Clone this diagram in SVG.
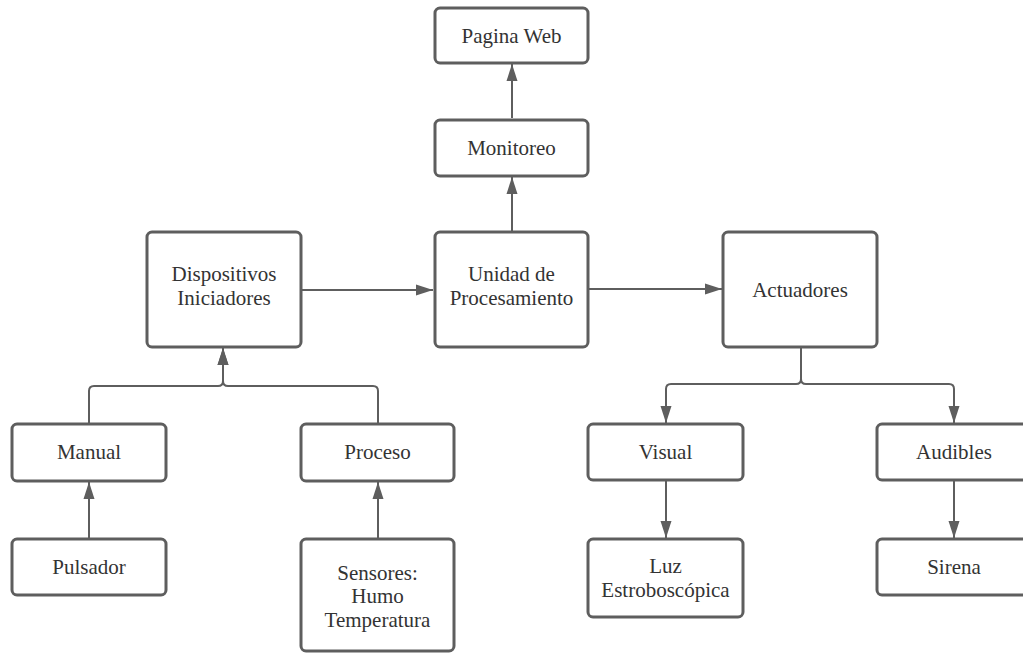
<svg xmlns="http://www.w3.org/2000/svg" width="1023" height="653" viewBox="0 0 1023 653">
  <style>
    .box { fill: #ffffff; stroke: #5e5e5e; stroke-width: 3; }
    .lbl { font-family: 'Liberation Serif', 'DejaVu Serif', serif; font-size: 21px; fill: #333333; text-anchor: middle; }
    .edge { fill: none; stroke: #5e5e5e; stroke-width: 2; marker-end: url(#arrow); }
  </style>
  <defs>
    <marker id="arrow" markerUnits="userSpaceOnUse" markerWidth="18" markerHeight="12" refX="17" refY="6" orient="auto">
      <path d="M0,0.5 L17,6 L0,11.5 Z" fill="#5e5e5e"/>
    </marker>
  </defs>
  <rect width="1023" height="653" fill="#ffffff"/>

  <!-- connectors -->
  <g id="connectors">
    <path class="edge" d="M512,118 V64"/>
    <path class="edge" d="M512,232 V177"/>
    <path class="edge" d="M301,290 H433"/>
    <path class="edge" d="M588,289 H722"/>
    <path class="edge" d="M89,423 V391 Q89,386 94,386 H218 Q223,386 223,381 V348"/>
    <path class="edge" d="M378,423 V391 Q378,386 373,386 H228 Q223,386 223,381 V348"/>
    <path class="edge" d="M89,539 V482"/>
    <path class="edge" d="M378,539 V482"/>
    <path class="edge" d="M801,347 V379 Q801,384 796,384 H671 Q666,384 666,389 V423"/>
    <path class="edge" d="M801,347 V379 Q801,384 806,384 H949 Q954,384 954,389 V423"/>
    <path class="edge" d="M666,480 V538"/>
    <path class="edge" d="M954,480 V538"/>
  </g>

  <g id="pagina-web">
    <rect class="box" x="435" y="8" width="153" height="55" rx="5"/>
    <text class="lbl" x="511.5" y="43">Pagina Web</text>
  </g>
  <g id="monitoreo">
    <rect class="box" x="435" y="120" width="153" height="56" rx="5"/>
    <text class="lbl" x="511.5" y="155">Monitoreo</text>
  </g>
  <g id="unidad-procesamiento">
    <rect class="box" x="435" y="232" width="153" height="115" rx="5"/>
    <text class="lbl" x="511.5" y="281">Unidad de</text>
    <text class="lbl" x="511.5" y="305">Procesamiento</text>
  </g>
  <g id="dispositivos-iniciadores">
    <rect class="box" x="147" y="232" width="154" height="115" rx="5"/>
    <text class="lbl" x="224" y="281">Dispositivos</text>
    <text class="lbl" x="224" y="305">Iniciadores</text>
  </g>
  <g id="actuadores">
    <rect class="box" x="723" y="232" width="154" height="115" rx="5"/>
    <text class="lbl" x="800" y="297">Actuadores</text>
  </g>
  <g id="manual">
    <rect class="box" x="12" y="424" width="154" height="57" rx="5"/>
    <text class="lbl" x="89" y="459">Manual</text>
  </g>
  <g id="proceso">
    <rect class="box" x="301" y="424" width="153" height="57" rx="5"/>
    <text class="lbl" x="377.5" y="459">Proceso</text>
  </g>
  <g id="pulsador">
    <rect class="box" x="12" y="539" width="154" height="56" rx="5"/>
    <text class="lbl" x="89" y="574">Pulsador</text>
  </g>
  <g id="sensores">
    <rect class="box" x="301" y="539" width="153" height="112" rx="5"/>
    <text class="lbl" x="377.5" y="580">Sensores:</text>
    <text class="lbl" x="377.5" y="603">Humo</text>
    <text class="lbl" x="377.5" y="627">Temperatura</text>
  </g>
  <g id="visual">
    <rect class="box" x="588" y="424" width="155" height="56" rx="5"/>
    <text class="lbl" x="665.5" y="459">Visual</text>
  </g>
  <g id="audibles">
    <rect class="box" x="877" y="424" width="154" height="56" rx="5"/>
    <text class="lbl" x="954" y="459">Audibles</text>
  </g>
  <g id="luz-estroboscopica">
    <rect class="box" x="588" y="539" width="155" height="78" rx="5"/>
    <text class="lbl" x="665.5" y="573">Luz</text>
    <text class="lbl" x="665.5" y="597">Estroboscópica</text>
  </g>
  <g id="sirena">
    <rect class="box" x="877" y="539" width="154" height="56" rx="5"/>
    <text class="lbl" x="954" y="574">Sirena</text>
  </g>
</svg>
